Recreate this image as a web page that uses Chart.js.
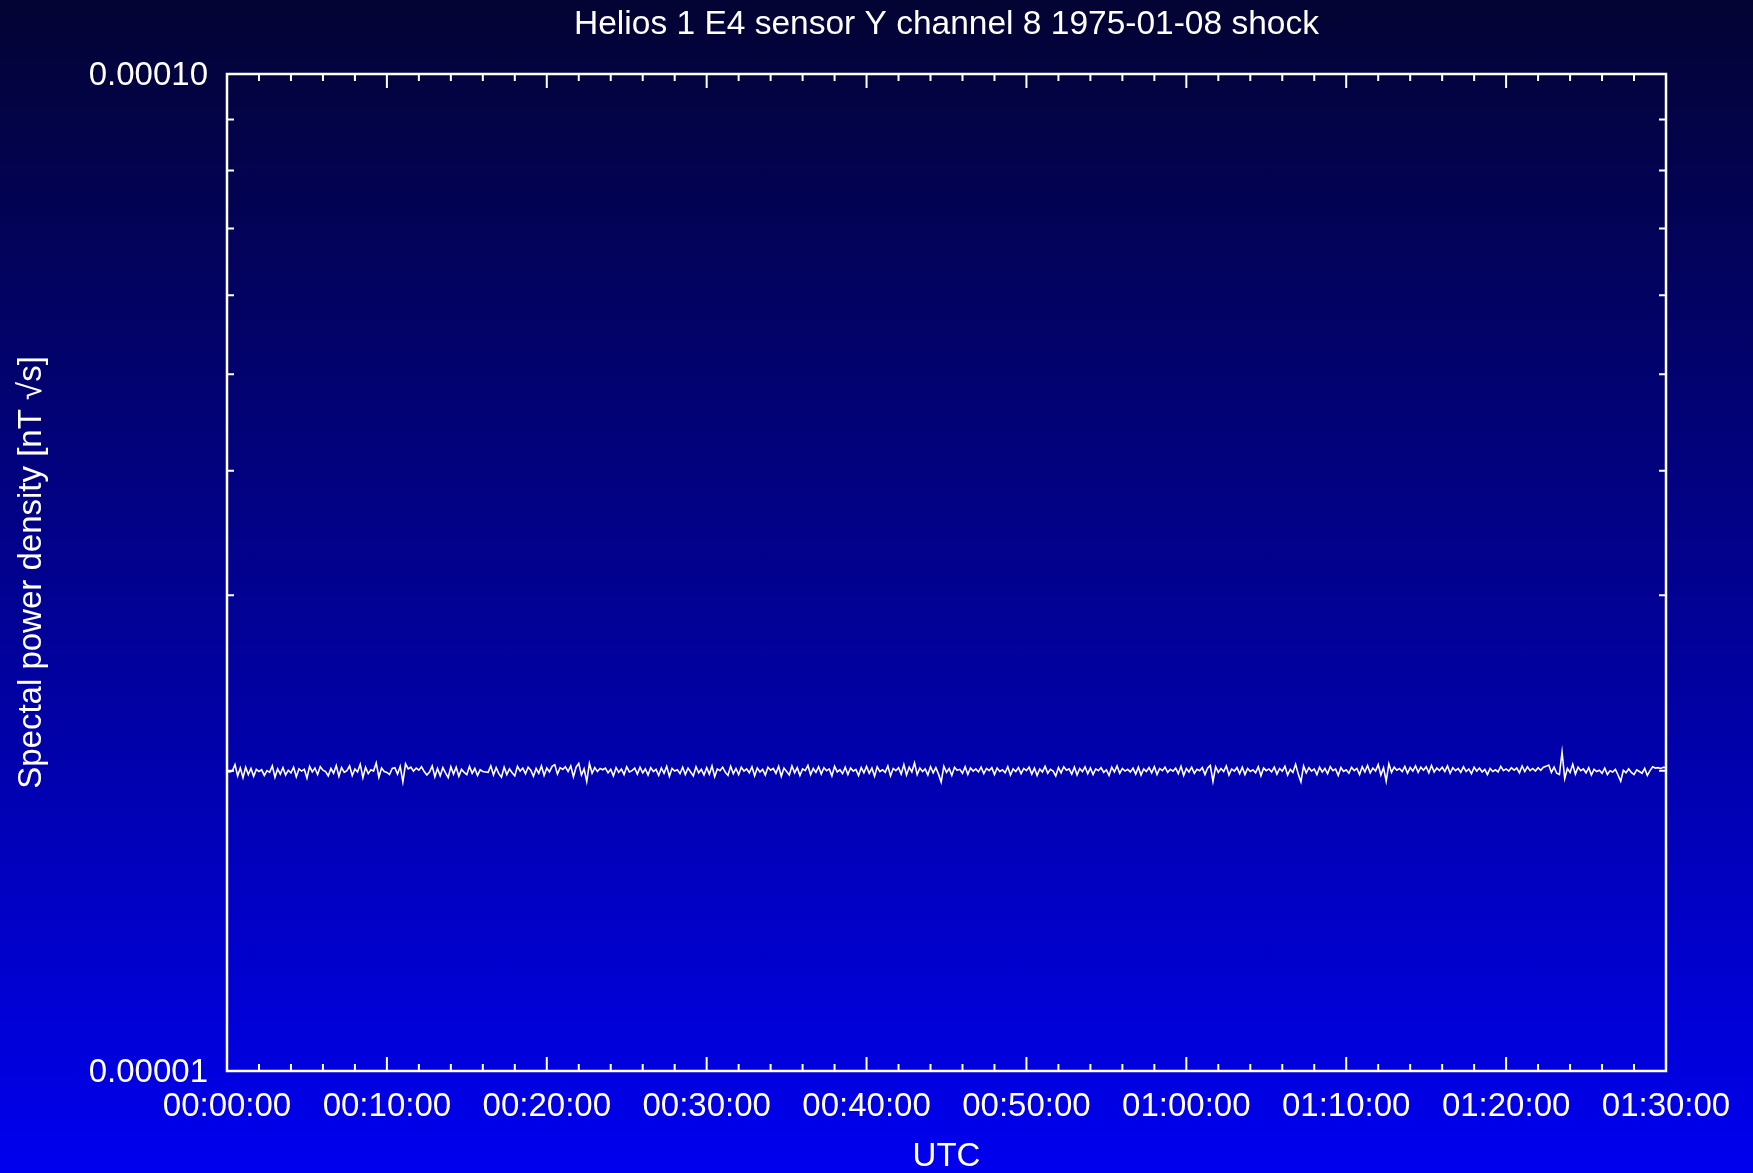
<!DOCTYPE html>
<html>
<head>
<meta charset="utf-8">
<title>Helios 1 E4 sensor Y channel 8</title>
<script src="https://cdn.jsdelivr.net/npm/chart.js@4.4.1/dist/chart.umd.min.js"></script>
<style>
    html, body { margin: 0; padding: 0; }
    body {
        width: 1753px; height: 1173px; overflow: hidden;
        background: linear-gradient(to bottom, #030333 0%, #0000ef 100%);
    }
    canvas { display: block; }
</style>
</head>
<body>
<canvas id="grafico" width="1753" height="1173"></canvas>
<script>
// Dados (densidade espectral, em unidades de 1e-7 nT √s)
// uma amostra a cada 10 s, de 00:00:00 até 01:30:00
const passoAmostra = 10;
const densidade = [
    199.7, 199.5, 199.9, 202.9, 197.7, 201.3, 196.9, 201.7, 198.3, 201.1,  197.5, 200.7, 199.7, 200.5, 197.9, 200.1, 199.3, 202.3, 197.1, 200.9,
    198.5, 201.5, 198.1, 200.3, 199.1, 201.7, 197.3, 200.9, 199.9, 200.7,  196.7, 202.1, 199.5, 201.3, 198.3, 201.9, 200.3, 199.7, 197.7, 201.1,
    198.9, 202.5, 197.5, 201.5, 199.3, 200.1, 202.3, 197.9, 200.9, 199.5,  203.1, 196.9, 201.7, 198.7, 200.5, 199.9, 203.7, 197.1, 201.3, 199.7,
    199.3, 198.3, 201.1, 201.5, 198.5, 202.1, 195.0, 203.3, 200.9, 201.7,  199.9, 201.3, 200.3, 201.9, 199.7, 198.1, 199.5, 202.3, 197.3, 201.1,
    197.7, 201.5, 199.1, 196.9, 201.9, 198.5, 201.7, 197.5, 200.7, 199.3,  198.3, 202.1, 198.9, 201.1, 197.9, 200.5, 199.7, 199.5, 199.3, 202.3,
    198.1, 201.5, 198.7, 197.1, 201.7, 198.3, 200.9, 199.1, 197.7, 202.1,  199.9, 201.3, 198.7, 201.7, 200.3, 197.5, 201.1, 198.9, 202.3, 197.9,
    201.3, 199.5, 202.1, 202.9, 198.5, 201.5, 200.7, 201.9, 199.7, 202.3,  197.3, 201.7, 203.5, 198.1, 200.9, 195.2, 203.5, 198.9, 201.5, 199.7,
    201.1, 200.5, 201.3, 199.1, 200.7, 197.7, 201.5, 199.3, 200.9, 198.3,  201.9, 199.5, 200.1, 201.3, 198.5, 201.7, 199.1, 200.9, 198.1, 201.5,
    199.7, 200.7, 197.9, 201.3, 198.9, 202.1, 197.5, 201.1, 199.9, 200.5,  198.7, 201.7, 198.3, 201.3, 199.5, 197.7, 201.9, 199.1, 200.7, 198.1,
    201.5, 198.5, 202.3, 197.3, 200.9, 200.1, 201.7, 199.3, 197.9, 202.1,  198.7, 201.1, 198.3, 201.7, 199.9, 200.9, 199.1, 201.9, 197.7, 201.3,
    199.5, 200.7, 198.1, 201.7, 200.3, 201.1, 198.9, 202.1, 197.5, 201.3,  199.7, 198.1, 202.3, 199.1, 201.5, 197.9, 200.9, 200.1, 202.5, 198.3,
    201.1, 199.3, 201.9, 198.5, 201.5, 200.1, 200.9, 197.7, 202.1, 199.5,  200.5, 198.7, 201.7, 198.3, 201.3, 199.9, 200.7, 197.9, 201.5, 199.1,
    202.1, 198.9, 201.3, 197.5, 201.9, 199.7, 200.5, 199.3, 202.3, 197.7,  201.1, 200.1, 201.5, 198.5, 202.9, 198.1, 201.7, 199.5, 203.7, 198.3,
    201.3, 199.7, 200.9, 198.1, 201.9, 199.1, 201.5, 198.5, 194.9, 202.1,  199.3, 201.1, 197.9, 201.7, 200.3, 200.7, 198.9, 201.9, 198.3, 201.3,
    199.9, 200.9, 199.5, 201.7, 198.7, 201.1, 200.1, 201.5, 198.3, 201.3,  199.7, 200.5, 199.1, 201.9, 198.1, 200.9, 199.7, 201.5, 198.7, 201.1,
    200.1, 201.7, 198.5, 201.3, 197.9, 200.9, 199.5, 202.1, 198.9, 200.7,  199.9, 197.7, 201.5, 199.1, 201.9, 200.3, 200.9, 198.5, 201.7, 198.1,
    201.1, 199.7, 201.9, 198.7, 201.3, 198.3, 200.9, 200.1, 201.5, 199.3,  200.5, 197.9, 201.7, 199.5, 202.3, 198.9, 201.1, 199.9, 200.7, 199.5,
    201.3, 198.5, 201.7, 198.1, 200.9, 199.7, 201.5, 199.1, 201.9, 198.3,  201.1, 200.1, 201.7, 199.3, 200.7, 199.9, 201.3, 198.7, 202.1, 197.9,
    201.1, 199.5, 201.7, 198.9, 200.7, 200.1, 201.5, 198.3, 201.3, 202.5,  195.2, 201.9, 199.3, 201.1, 199.7, 202.3, 198.1, 200.9, 199.9, 201.5,
    198.7, 201.7, 198.3, 201.1, 199.7, 200.5, 199.1, 201.9, 197.7, 201.3,  200.1, 200.9, 199.5, 201.7, 198.5, 201.1, 199.9, 202.1, 198.1, 200.7,
    199.3, 203.1, 198.5, 195.0, 202.3, 199.1, 201.5, 199.9, 200.9, 198.3,  201.7, 199.5, 201.1, 198.7, 201.9, 200.1, 200.9, 197.9, 201.5, 199.7,
    200.5, 198.9, 201.7, 200.1, 201.1, 198.3, 201.9, 199.5, 202.5, 199.1,  201.3, 199.9, 202.9, 198.1, 201.5, 195.3, 203.3, 199.3, 201.7, 200.3,
    201.1, 199.7, 202.1, 198.9, 201.5, 199.9, 202.3, 199.3, 201.7, 200.3,  201.9, 199.1, 202.5, 199.5, 201.3, 200.1, 201.7, 199.7, 202.3, 198.9,
    201.5, 200.1, 201.1, 199.3, 201.9, 199.7, 200.9, 198.7, 201.7, 199.9,  201.3, 199.5, 200.7, 198.3, 201.1, 199.7, 200.5, 199.5, 202.1, 200.1,
    200.9, 199.9, 201.5, 200.3, 201.3, 199.1, 202.3, 199.7, 201.9, 200.1,  201.1, 199.9, 201.5, 200.3, 201.7, 202.1, 202.7, 199.3, 201.7, 198.9,
    198.3, 208.9, 196.5, 201.1, 199.3, 203.1, 198.5, 201.7, 200.1, 200.9,  199.1, 201.5, 198.1, 200.7, 199.7, 200.3, 198.9, 201.3, 198.3, 200.1,
    199.5, 200.7, 198.1, 195.3, 200.3, 199.1, 200.9, 199.3, 198.3, 200.5,  199.7, 198.9, 201.1, 197.9, 200.1, 201.9, 201.3, 201.5, 201.1, 201.7,
    201.5
];

// Eixos
const tempoMin = 0;
const tempoMax = 5400;
const ticksXMaiores = [0, 600, 1200, 1800, 2400, 3000, 3600, 4200, 4800, 5400];
const rotulosX = ['00:00:00', '00:10:00', '00:20:00', '00:30:00', '00:40:00',
                  '00:50:00', '01:00:00', '01:10:00', '01:20:00', '01:30:00'];
const ticksXMenores = [120, 240, 360, 480, 720, 840, 960, 1080, 1320, 1440, 1560, 1680,
                       1920, 2040, 2160, 2280, 2520, 2640, 2760, 2880, 3120, 3240, 3360, 3480,
                       3720, 3840, 3960, 4080, 4320, 4440, 4560, 4680, 4920, 5040, 5160, 5280];
const ticksYMaiores = [1e-5, 1e-4];
const rotulosY = ['0.00001', '0.00010'];
const ticksYMenores = [2e-5, 3e-5, 4e-5, 5e-5, 6e-5, 7e-5, 8e-5, 9e-5];

const titulo = 'Helios 1 E4 sensor Y channel 8 1975-01-08 shock';
const tituloX = 'UTC';
const tituloY = 'Spectal power density [nT \u221As]';

const fonte = '"Liberation Sans", Arial, sans-serif';
const branco = '#ffffff';

const pontos = densidade.map((v, i) => ({ x: i * passoAmostra, y: v * 1e-7 }));

// Moldura e marcas de escala para dentro, nos quatro lados (estilo gnuplot)
const pluginMoldura = {
    id: 'moldura',
    afterDatasetsDraw(chart) {
        const { ctx, chartArea: a, scales } = chart;
        const sx = scales.x, sy = scales.y;
        ctx.save();
        ctx.strokeStyle = branco;
        ctx.lineWidth = 2;
        const marca = (px, comp, vertical) => {
            ctx.beginPath();
            if (vertical) {
                ctx.moveTo(px, a.bottom); ctx.lineTo(px, a.bottom - comp);
                ctx.moveTo(px, a.top); ctx.lineTo(px, a.top + comp);
            } else {
                ctx.moveTo(a.left, px); ctx.lineTo(a.left + comp, px);
                ctx.moveTo(a.right, px); ctx.lineTo(a.right - comp, px);
            }
            ctx.stroke();
        };
        ticksXMaiores.forEach(v => marca(sx.getPixelForValue(v), 14, true));
        ticksXMenores.forEach(v => marca(sx.getPixelForValue(v), 7, true));
        ticksYMenores.forEach(v => marca(sy.getPixelForValue(v), 7, false));
        ctx.lineWidth = 2.5;
        ctx.strokeRect(a.left, a.top, a.right - a.left, a.bottom - a.top);
        ctx.restore();
    }
};

new Chart(document.getElementById('grafico'), {
    type: 'line',
    data: {
        datasets: [{
            data: pontos,
            borderColor: branco,
            borderWidth: 1.6,
            pointRadius: 0,
            tension: 0,
            fill: false
        }]
    },
    options: {
        responsive: false,
        animation: false,
        parsing: false,
        layout: { padding: { left: 0, right: 87, top: 0, bottom: 0 } },
        plugins: {
            legend: { display: false },
            tooltip: { enabled: false },
            title: {
                display: true,
                fullSize: false,
                text: titulo,
                color: branco,
                font: { family: fonte, size: 33.5, weight: 'normal' },
                padding: { top: 5, bottom: 28.8 }
            }
        },
        scales: {
            x: {
                type: 'linear',
                min: tempoMin,
                max: tempoMax,
                grid: { display: false, drawTicks: false },
                border: { display: false },
                afterBuildTicks: s => { s.ticks = ticksXMaiores.map(v => ({ value: v })); },
                afterFit: s => { s.height = 102; s.paddingLeft = 0; s.paddingRight = 0; },
                ticks: {
                    color: branco,
                    autoSkip: false,
                    maxRotation: 0,
                    padding: 16,
                    font: { family: fonte, size: 33 },
                    callback: (v, i) => rotulosX[i]
                },
                title: {
                    display: true,
                    text: tituloX,
                    color: branco,
                    font: { family: fonte, size: 33, lineHeight: 1.0 },
                    padding: { top: 0, bottom: 0 }
                }
            },
            y: {
                type: 'logarithmic',
                min: 1e-5,
                max: 1e-4,
                grid: { display: false, drawTicks: false },
                border: { display: false },
                afterBuildTicks: s => { s.ticks = ticksYMaiores.map(v => ({ value: v })); },
                afterFit: s => { s.width = 227; },
                ticks: {
                    color: branco,
                    autoSkip: false,
                    padding: 19,
                    labelOffset: 2,
                    font: { family: fonte, size: 33 },
                    callback: (v, i) => rotulosY[i]
                },
                title: {
                    display: true,
                    text: tituloY,
                    color: branco,
                    font: { family: fonte, size: 33 },
                    padding: { top: 12, bottom: 0 }
                }
            }
        }
    },
    plugins: [pluginMoldura]
});
</script>
</body>
</html>
